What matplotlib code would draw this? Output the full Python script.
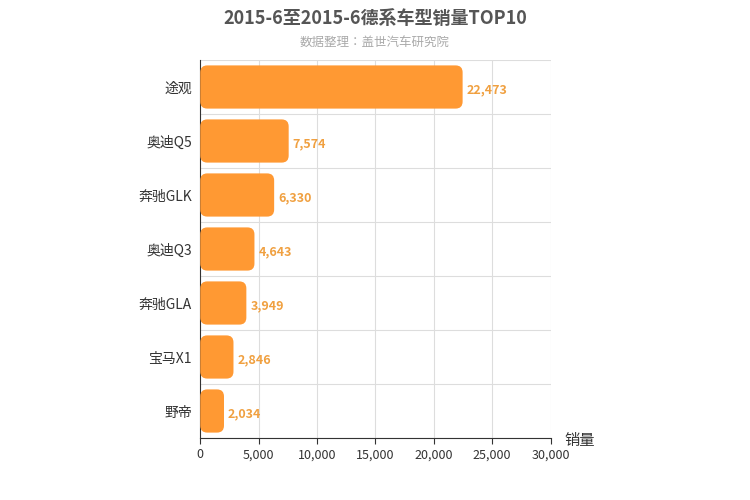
import matplotlib
matplotlib.use('Agg')
import matplotlib.pyplot as plt
from matplotlib.patches import FancyBboxPatch
from matplotlib import font_manager

names = set(f.name for f in font_manager.fontManager.ttflist)
cjk = [f for f in ['Noto Sans CJK SC', 'Noto Sans CJK JP', 'Noto Sans CJK TC', 'Noto Sans CJK KR'] if f in names]
print(cjk, sorted(n for n in names if 'CJK' in n or 'Noto' in n))
plt.rcParams['font.family'] = 'sans-serif'
plt.rcParams['font.sans-serif'] = cjk + ['DejaVu Sans']

models = ['途观', '奥迪Q5', '奔驰GLK', '奥迪Q3', '奔驰GLA', '宝马X1', '野帝']
sales = [22473, 7574, 6330, 4643, 3949, 2846, 2034]
xticks = [0, 5000, 10000, 15000, 20000, 25000, 30000]

fig = plt.figure(figsize=(7.5, 5), dpi=100)
ax = fig.add_axes([0.267, 0.124, 0.467, 0.756])
n = len(models)
ax.set_xlim(0, 30000)
ax.set_ylim(-0.5, n - 0.5)

# pixel -> data scale for rounded corners
px_x = 30000 / 350.0
px_y = n / 378.0
for i, v in enumerate(sales):
    y = n - 1 - i
    ax.add_patch(FancyBboxPatch((0, y - 0.4), v, 0.8,
                                boxstyle='round,pad=0,rounding_size=%f' % (7 * px_x),
                                mutation_aspect=px_y / px_x,
                                fc='#ff9933', ec='none', zorder=3))
    ax.text(v + 350, y - 0.05, format(v, ','), va='center', ha='left',
            color='#f0a040', fontsize=9, fontweight='bold', zorder=4)

ax.set_yticks(range(n))
ax.set_yticklabels(models[::-1], fontsize=10, color='#333333')
ax.set_xticks(xticks)
ax.set_xticklabels([format(t, ',') for t in xticks], fontsize=9, color='#333333')
for k in range(n + 1):
    ax.axhline(k - 0.5, color='#dddddd', lw=0.8, zorder=1)
for t in xticks[1:]:
    ax.axvline(t, color='#dddddd', lw=0.8, zorder=1)
for s in ['top', 'right']:
    ax.spines[s].set_visible(False)
ax.spines['left'].set_color('#333333')
ax.spines['bottom'].set_color('#333333')
ax.tick_params(axis='y', length=0, pad=6)
ax.tick_params(axis='x', length=4, color='#333333')

fig.text(0.5, 0.962, '2015-6至2015-6德系车型销量TOP10', ha='center', va='center',
         fontsize=13, fontweight='bold', color='#555555')
fig.text(0.5, 0.915, '数据整理：盖世汽车研究院', ha='center', va='center',
         fontsize=9, color='#aaaaaa')
fig.text(0.753, 0.118, '销量', ha='left', va='center', fontsize=11, color='#333333')

fig.savefig('out.png', dpi=100)
